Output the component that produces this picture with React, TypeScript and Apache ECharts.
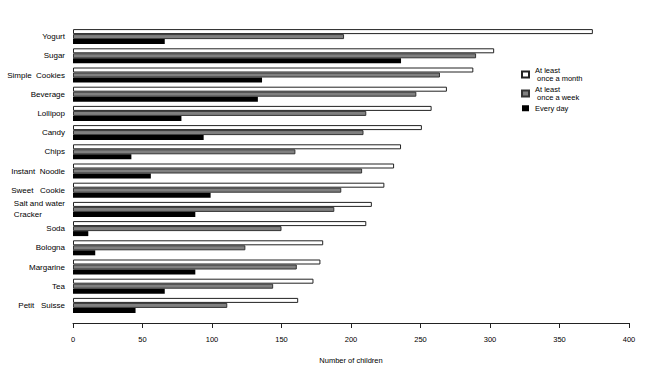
import React, { useEffect, useRef } from "react";
import * as echarts from "echarts";

const categories = [
  "Yogurt",
  "Sugar",
  "Simple  Cookies",
  "Beverage",
  "Lollipop",
  "Candy",
  "Chips",
  "Instant  Noodle",
  "Sweet   Cookie",
  "Salt and water\nCracker",
  "Soda",
  "Bologna",
  "Margarine",
  "Tea",
  "Petit   Suisse",
];
const monthly = [374, 303, 288, 269, 258, 251, 236, 231, 224, 215, 211, 180, 178, 173, 162];
const weekly = [195, 290, 264, 247, 211, 209, 160, 208, 193, 188, 150, 124, 161, 144, 111];
const daily = [66, 236, 136, 133, 78, 94, 42, 56, 99, 88, 11, 16, 88, 66, 45];
const xTicks = [0, 50, 100, 150, 200, 250, 300, 350, 400];
const seriesNames = ["At least once a month", "At least once a week", "Every day"];
const legendLabels: Record<string, string> = {
  "At least once a month": "At least\n once a month",
  "At least once a week": "At least\n once a week",
  "Every day": "Every day",
};

export default function App() {
  const ref = useRef<HTMLDivElement>(null);
  useEffect(() => {
    document.body.style.margin = "0";
    if (!ref.current) return;
    const chart = echarts.init(ref.current, null, { renderer: "svg" });
    const font = "Liberation Sans, Arial, sans-serif";
    chart.setOption({
      animation: false,
      textStyle: { fontFamily: font },
      grid: { left: 73, right: 21, top: 27, height: 288 },
      legend: {
        orient: "vertical",
        left: 516,
        top: 61,
        itemWidth: 7,
        itemHeight: 6,
        itemGap: 2,
        icon: "rect",
        formatter: (n: string) => legendLabels[n],
        textStyle: { fontSize: 7.5, color: "#000", fontFamily: font, lineHeight: 8.5, padding: [0, 0, 0, 1] },
        data: seriesNames,
      },
      xAxis: {
        type: "value",
        min: xTicks[0],
        max: xTicks[xTicks.length - 1],
        interval: 50,
        offset: 8,
        name: "Number of children",
        nameLocation: "middle",
        nameGap: 33,
        nameTextStyle: { fontSize: 7.5, color: "#000" },
        axisLine: { show: true, lineStyle: { color: "#222", width: 1 } },
        axisTick: { show: true, inside: false, length: 5, lineStyle: { color: "#222" } },
        axisLabel: { fontSize: 7.5, color: "#000", margin: 12 },
        splitLine: { show: false },
      },
      yAxis: {
        type: "category",
        data: categories,
        inverse: true,
        axisLine: { show: false },
        axisTick: { show: false },
        axisLabel: {
          fontSize: 8,
          color: "#000",
          margin: 8,
          lineHeight: 11,
          align: "right",
          formatter: (v: string) => {
            const parts = v.split("\n");
            if (parts.length < 2) return v;
            return parts[0] + "\n{ind|" + parts[1] + "}";
          },
          rich: { ind: { fontSize: 8, color: "#000", width: 48, align: "left", fontFamily: font } },
        },
      },
      series: [
        {
          name: seriesNames[0],
          type: "bar",
          data: monthly,
          barWidth: 5,
          barGap: "0%",
          itemStyle: { color: "#ffffff", borderColor: "#222", borderWidth: 1 },
        },
        {
          name: seriesNames[1],
          type: "bar",
          data: weekly,
          barWidth: 5,
          barGap: "0%",
          itemStyle: { color: "#808080", borderColor: "#333", borderWidth: 1 },
        },
        {
          name: seriesNames[2],
          type: "bar",
          data: daily,
          barWidth: 5,
          barGap: "0%",
          itemStyle: { color: "#000000" },
        },
      ],
    });
    return () => chart.dispose();
  }, []);
  return <div ref={ref} style={{ width: 650, height: 373 }} />;
}
